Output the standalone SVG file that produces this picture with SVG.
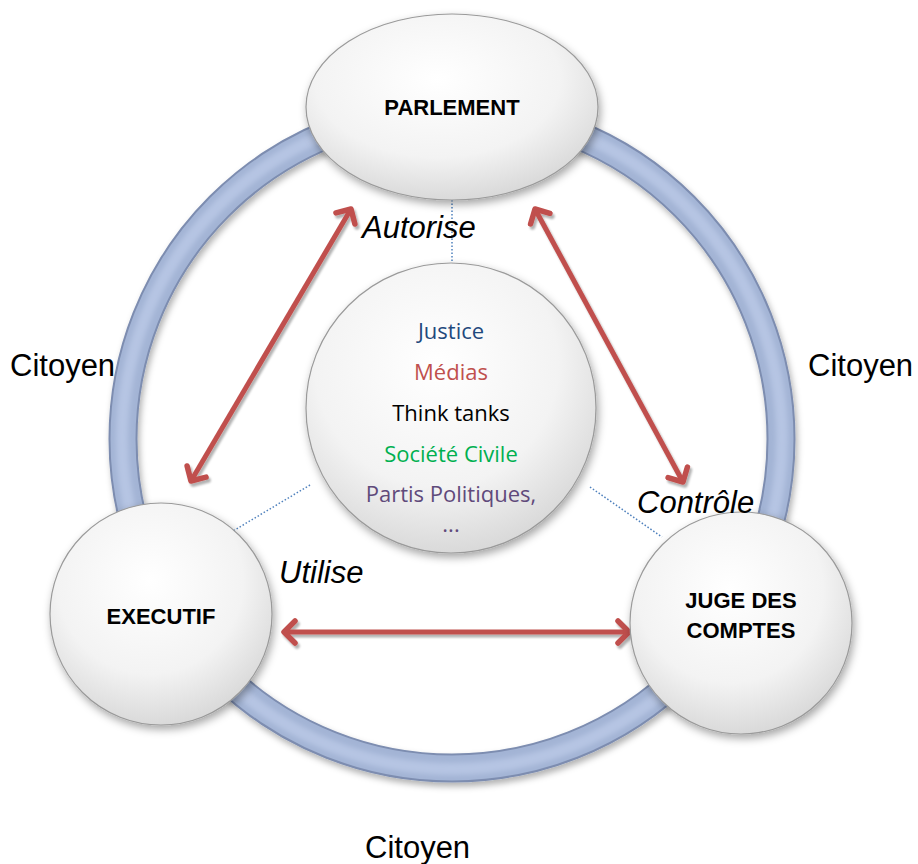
<svg xmlns="http://www.w3.org/2000/svg" width="918" height="864" viewBox="0 0 918 864">
<defs>
<style>
.node{fill:url(#nodeGrad);stroke:#9a9a9a;stroke-width:1.2;filter:url(#shadow)}
.lbl{font-family:"Liberation Sans",Arial,sans-serif;font-weight:bold;font-size:22px;fill:#000;text-anchor:middle}
.ctr{font-family:"Open Sans","Noto Sans",sans-serif;font-size:22px;text-anchor:middle}
.it{font-family:"Liberation Sans",Arial,sans-serif;font-style:italic;font-size:31px;fill:#000}
.cit{font-family:"Liberation Sans",Arial,sans-serif;font-size:31px;fill:#000}
.dot{stroke:#4f81bd;stroke-width:1.5;stroke-dasharray:1.5 2;fill:none}
.arr{stroke:#c0504d;stroke-width:5;fill:none;marker-start:url(#head);marker-end:url(#head)}
</style>
<radialGradient id="nodeGrad" cx="45%" cy="35%" r="70%">
<stop offset="0" stop-color="#ffffff"/>
<stop offset="0.6" stop-color="#f3f3f3"/>
<stop offset="1" stop-color="#d4d4d4"/>
</radialGradient>
<filter id="shadow" x="-20%" y="-20%" width="140%" height="140%">
<feDropShadow dx="2" dy="4" stdDeviation="4" flood-color="#000" flood-opacity="0.35"/>
</filter>
<filter id="ashadow" x="-20%" y="-20%" width="140%" height="140%">
<feDropShadow dx="2" dy="3" stdDeviation="1.2" flood-color="#000" flood-opacity="0.3"/>
</filter>
<filter id="rshadow" x="-10%" y="-10%" width="120%" height="120%">
<feDropShadow dx="2" dy="4" stdDeviation="3" flood-color="#000" flood-opacity="0.3"/>
</filter>
<filter id="blur1"><feGaussianBlur stdDeviation="2.5"/></filter>
<marker id="head" viewBox="-14 -14 28 28" markerWidth="28" markerHeight="28" refX="0" refY="0" orient="auto-start-reverse" markerUnits="userSpaceOnUse">
<path d="M-11,-11 L0,0 L-11,11" fill="none" stroke="#c0504d" stroke-width="5.5" stroke-linecap="round" stroke-linejoin="round"/>
</marker>
</defs>
<rect width="918" height="864" fill="#ffffff"/>

<g id="ring" filter="url(#rshadow)">
<circle cx="452" cy="439" r="329" fill="none" stroke="#7d8db0" stroke-width="29"/>
<circle cx="452" cy="439" r="329" fill="none" stroke="#a3b4d5" stroke-width="25"/>
<circle cx="452" cy="439" r="330" fill="none" stroke="#b6c5e3" stroke-width="12" filter="url(#blur1)"/>
</g>

<g id="connectors">
<line class="dot" x1="452" y1="200" x2="452" y2="264"/>
<line class="dot" x1="310" y1="485" x2="223" y2="537"/>
<line class="dot" x1="590" y1="487" x2="662" y2="537"/>
<g filter="url(#ashadow)">
<line class="arr" x1="191" y1="481" x2="351" y2="209"/>
<line class="arr" x1="535" y1="209" x2="683" y2="482"/>
<line class="arr" x1="284" y1="632" x2="629" y2="632"/>
</g>
</g>

<g id="parlement">
<ellipse class="node" cx="452" cy="107" rx="146" ry="93"/>
<text class="lbl" x="452" y="115">PARLEMENT</text>
</g>

<g id="centre">
<ellipse class="node" cx="451" cy="408" rx="145" ry="145"/>
<text class="ctr" x="451" y="339" fill="#1f497d">Justice</text>
<text class="ctr" x="451" y="380" fill="#c0504d">Médias</text>
<text class="ctr" x="451" y="421" fill="#000000">Think tanks</text>
<text class="ctr" x="451" y="462" fill="#00b050">Société Civile</text>
<text class="ctr" x="451" y="502" fill="#604a7b">Partis Politiques,</text>
<text class="ctr" x="451" y="532" fill="#604a7b">...</text>
</g>

<g id="executif">
<circle class="node" cx="161" cy="614" r="111"/>
<text class="lbl" x="161" y="624">EXECUTIF</text>
</g>

<g id="juge">
<circle class="node" cx="741" cy="623" r="111"/>
<text class="lbl" x="741" y="608">JUGE DES</text>
<text class="lbl" x="741" y="638">COMPTES</text>
</g>

<g id="labels">
<text class="it" x="362" y="238">Autorise</text>
<text class="it" x="637" y="513">Contrôle</text>
<text class="it" x="279" y="583">Utilise</text>
<text class="cit" x="10" y="376">Citoyen</text>
<text class="cit" x="808" y="376">Citoyen</text>
<text class="cit" x="365" y="858">Citoyen</text>
</g>
</svg>
